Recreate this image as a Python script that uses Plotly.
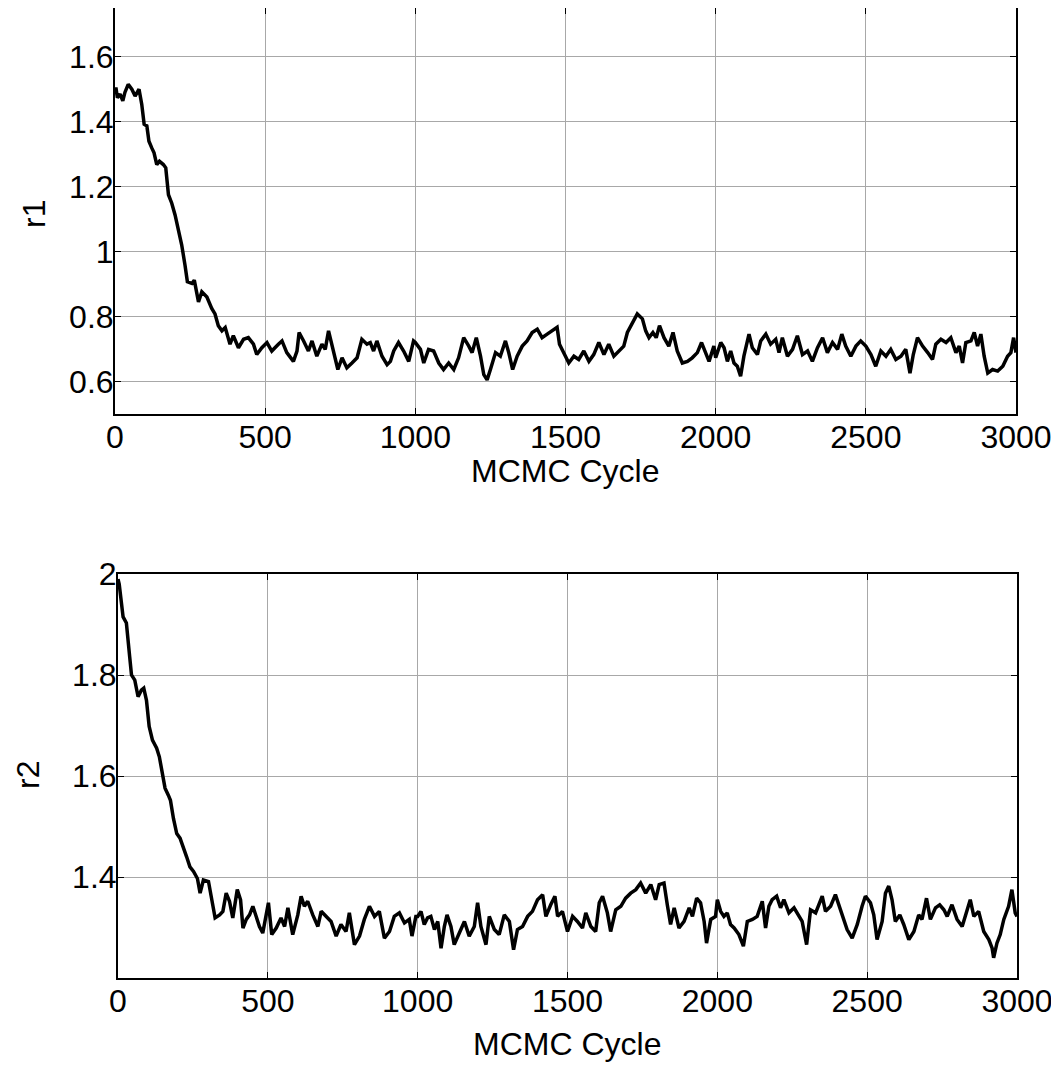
import plotly.graph_objects as go

# ---- data: r1 trace (MCMC cycle, value) ----
r1_cycle = [0, 3, 8, 17, 26, 33, 44, 56, 67, 80, 89, 97, 106, 113, 122, 130, 139, 148, 161, 169,
            178, 189, 200, 211, 222, 233, 241, 256, 264, 278, 289, 306, 322, 333, 344, 356, 367,
            383, 394, 411, 428, 444, 461, 472, 489, 506, 522, 544, 556, 572, 594, 606, 613, 628,
            644, 656, 672, 689, 700, 711, 728, 742, 756, 772, 789, 806, 822, 839, 850, 861, 872,
            889, 906, 917, 928, 944, 961, 978, 994,
            1000, 1017, 1028, 1044, 1061, 1078, 1094, 1111, 1128, 1144, 1161, 1178, 1189, 1203,
            1217, 1228, 1239, 1250, 1267, 1283, 1300, 1311, 1324, 1339, 1356, 1372, 1389, 1406,
            1422, 1439, 1456, 1472, 1480, 1494, 1511, 1528, 1544, 1561, 1578, 1594, 1611, 1628,
            1644, 1661, 1678, 1694, 1706, 1722, 1739, 1756, 1767, 1778, 1791, 1802, 1813, 1828,
            1844, 1858, 1872, 1889, 1906, 1922, 1939, 1953, 1967, 1978, 1994,
            2000, 2017, 2028, 2039, 2050, 2061, 2072, 2083, 2094, 2111, 2122, 2139, 2150, 2167,
            2183, 2200, 2211, 2222, 2239, 2256, 2272, 2289, 2306, 2322, 2339, 2356, 2372, 2389,
            2406, 2420, 2433, 2450, 2467, 2483, 2500, 2517, 2533, 2550, 2567, 2583, 2600, 2617,
            2633, 2647, 2658, 2672, 2689, 2706, 2722, 2733, 2750, 2767, 2783, 2800, 2811, 2822,
            2833, 2850, 2861, 2872, 2883, 2894, 2906, 2922, 2939, 2956, 2972, 2983, 2992, 3000]
r1_value = [1.49, 1.505, 1.474, 1.485, 1.464, 1.49, 1.515, 1.5, 1.479, 1.5, 1.454, 1.392, 1.387,
            1.34, 1.32, 1.304, 1.268, 1.278, 1.268, 1.258, 1.175, 1.149, 1.113, 1.072, 1.021,
            0.959, 0.907, 0.902, 0.912, 0.845, 0.876, 0.86, 0.825, 0.808, 0.772, 0.756, 0.766,
            0.715, 0.741, 0.704, 0.73, 0.735, 0.715, 0.683, 0.704, 0.72, 0.694, 0.715, 0.725,
            0.689, 0.662, 0.694, 0.751, 0.725, 0.694, 0.725, 0.678, 0.715, 0.699, 0.756, 0.689,
            0.637, 0.673, 0.642, 0.657, 0.673, 0.730, 0.715, 0.72, 0.694, 0.725, 0.678, 0.652,
            0.662, 0.694, 0.72, 0.694, 0.662, 0.725,
            0.72, 0.699, 0.657, 0.699, 0.694, 0.657, 0.637, 0.657, 0.637, 0.673, 0.735, 0.709,
            0.689, 0.735, 0.678, 0.621, 0.605, 0.637, 0.689, 0.678, 0.725, 0.689, 0.637, 0.678,
            0.709, 0.725, 0.751, 0.761, 0.735, 0.746, 0.756, 0.767, 0.715, 0.689, 0.657, 0.678,
            0.668, 0.694, 0.662, 0.683, 0.72, 0.683, 0.715, 0.678, 0.694, 0.709, 0.751, 0.777,
            0.808, 0.793, 0.756, 0.735, 0.751, 0.735, 0.772, 0.735, 0.709, 0.751, 0.694, 0.657,
            0.662, 0.673, 0.689, 0.72, 0.689, 0.662, 0.709,
            0.673, 0.72, 0.704, 0.662, 0.694, 0.657, 0.647, 0.616, 0.678, 0.746, 0.704, 0.683,
            0.725, 0.746, 0.715, 0.730, 0.689, 0.735, 0.678, 0.699, 0.741, 0.683, 0.694, 0.662,
            0.704, 0.735, 0.689, 0.72, 0.699, 0.746, 0.709, 0.678, 0.709, 0.725, 0.709, 0.683,
            0.647, 0.694, 0.678, 0.699, 0.668, 0.678, 0.699, 0.626, 0.683, 0.735, 0.709, 0.689,
            0.668, 0.715, 0.730, 0.72, 0.735, 0.689, 0.709, 0.657, 0.72, 0.725, 0.751, 0.709,
            0.746, 0.678, 0.626, 0.637, 0.632, 0.647, 0.678, 0.689, 0.735, 0.689]

# ---- data: r2 trace ----
r2_cycle = [0, 4, 17, 28, 39, 45, 56, 67, 78, 86, 95, 104, 115, 129, 138, 149, 157, 168, 175, 185,
            196, 207, 216, 229, 240, 252, 265, 274, 285, 302, 317, 324, 339, 350, 361, 372, 383,
            398, 409, 417, 428, 439, 450, 461, 472, 483, 494, 502, 513, 528, 544, 556, 567, 583,
            600, 611, 622, 633, 650, 667, 678, 694, 711, 728, 744, 761, 772, 789, 806, 822, 839,
            856, 872, 889, 906, 922, 939, 956, 972, 981, 994,
            1000, 1011, 1022, 1033, 1044, 1056, 1067, 1078, 1089, 1098, 1111, 1122, 1139, 1156,
            1172, 1189, 1200, 1211, 1228, 1239, 1256, 1272, 1289, 1306, 1320, 1333, 1350, 1367,
            1383, 1400, 1417, 1428, 1444, 1458, 1467, 1483, 1500, 1517, 1533, 1550, 1561, 1578,
            1594, 1606, 1617, 1633, 1644, 1661, 1678, 1694, 1711, 1728, 1744, 1761, 1778, 1794,
            1806, 1822, 1833, 1844, 1856, 1872, 1889, 1906, 1917, 1931, 1944, 1956, 1964, 1978,
            1994,
            2000, 2011, 2022, 2033, 2044, 2056, 2072, 2087, 2100, 2117, 2133, 2150, 2161, 2172,
            2183, 2198, 2211, 2222, 2239, 2256, 2272, 2283, 2298, 2311, 2328, 2339, 2350, 2361,
            2378, 2394, 2406, 2417, 2433, 2450, 2467, 2483, 2494, 2511, 2522, 2533, 2550, 2561,
            2572, 2583, 2594, 2609, 2622, 2639, 2656, 2672, 2683, 2698, 2711, 2728, 2742, 2756,
            2767, 2783, 2800, 2817, 2828, 2844, 2856, 2872, 2889, 2906, 2917, 2922, 2933, 2944,
            2956, 2972, 2983, 2994, 3000]
r2_value = [1.99, 1.98, 1.915, 1.903, 1.836, 1.8, 1.79, 1.757, 1.77, 1.774, 1.75, 1.698, 1.671,
            1.655, 1.638, 1.605, 1.576, 1.562, 1.552, 1.516, 1.486, 1.477, 1.463, 1.44, 1.42,
            1.411, 1.397, 1.368, 1.394, 1.391, 1.342, 1.319, 1.325, 1.332, 1.368, 1.352, 1.319,
            1.375, 1.355, 1.299, 1.316, 1.325, 1.342, 1.319, 1.302, 1.289, 1.322, 1.349, 1.286,
            1.299, 1.319, 1.302, 1.339, 1.286, 1.325, 1.362, 1.342, 1.352, 1.325, 1.302, 1.332,
            1.322, 1.312, 1.283, 1.306, 1.292, 1.329, 1.266, 1.283, 1.316, 1.342, 1.322, 1.332,
            1.279, 1.292, 1.322, 1.329, 1.309, 1.316, 1.283, 1.322,
            1.322, 1.332, 1.306, 1.319, 1.322, 1.296, 1.312, 1.259, 1.302, 1.325, 1.302, 1.266,
            1.289, 1.312, 1.283, 1.302, 1.349, 1.302, 1.266, 1.322, 1.296, 1.286, 1.325, 1.312,
            1.256, 1.296, 1.302, 1.322, 1.332, 1.355, 1.365, 1.322, 1.345, 1.362, 1.322, 1.332,
            1.292, 1.322, 1.312, 1.299, 1.329, 1.302, 1.292, 1.349, 1.362, 1.329, 1.292, 1.335,
            1.342, 1.358, 1.368, 1.375, 1.388, 1.368, 1.385, 1.355, 1.385, 1.388, 1.345, 1.306,
            1.339, 1.299, 1.312, 1.339, 1.322, 1.358, 1.349, 1.312, 1.269, 1.316, 1.322,
            1.355, 1.332, 1.322, 1.329, 1.306, 1.299, 1.286, 1.263, 1.312, 1.316, 1.322, 1.352,
            1.299, 1.342, 1.355, 1.362, 1.339, 1.355, 1.329, 1.339, 1.322, 1.312, 1.266, 1.335,
            1.329, 1.345, 1.362, 1.332, 1.342, 1.365, 1.342, 1.325, 1.296, 1.279, 1.306, 1.342,
            1.362, 1.349, 1.325, 1.276, 1.312, 1.368, 1.382, 1.355, 1.312, 1.325, 1.306, 1.276,
            1.292, 1.325, 1.316, 1.358, 1.316, 1.339, 1.345, 1.335, 1.322, 1.345, 1.316, 1.302,
            1.325, 1.355, 1.322, 1.332, 1.292, 1.276, 1.259, 1.240, 1.269, 1.286, 1.316, 1.342,
            1.375, 1.329, 1.322]

x_ticks = [0, 500, 1000, 1500, 2000, 2500, 3000]
r1_ticks = [0.6, 0.8, 1.0, 1.2, 1.4, 1.6]
r1_ticklabels = ["0.6", "0.8", "1", "1.2", "1.4", "1.6"]
r2_ticks = [1.4, 1.6, 1.8, 2.0]
r2_ticklabels = ["1.4", "1.6", "1.8", "2"]

W, H = 1059, 1069
OFF = 8  # page body margin offset (px)
FONT = "Liberation Sans, Arial, sans-serif"
FS = 32


def px_x(x):
    return (x - OFF) / W


def px_y(y):
    return 1 - (y - OFF) / H


fig = go.Figure()
fig.add_trace(go.Scatter(x=r1_cycle, y=r1_value, mode="lines",
                         line=dict(color="black", width=3.5), xaxis="x", yaxis="y",
                         showlegend=False))
fig.add_trace(go.Scatter(x=r2_cycle, y=r2_value, mode="lines",
                         line=dict(color="black", width=3.5), xaxis="x2", yaxis="y2",
                         showlegend=False))

common_axis = dict(showline=True, linecolor="black", linewidth=2, mirror="ticks",
                   ticks="inside", ticklen=6, tickwidth=1, tickcolor="black",
                   showgrid=True, gridcolor="#a8a8a8", gridwidth=1, zeroline=False,
                   automargin=False,
                   tickfont=dict(family=FONT, size=FS, color="black"))

fig.update_layout(
    width=W, height=H,
    margin=dict(l=0, r=0, t=0, b=0, pad=0),
    paper_bgcolor="white", plot_bgcolor="white",
    xaxis=dict(domain=[px_x(115), px_x(1016)], range=[0, 3000], tickvals=x_ticks,
               anchor="y", ticklabelstandoff=-6, **common_axis),
    yaxis=dict(domain=[px_y(414), px_y(8)], range=[0.5, 1.75], tickvals=r1_ticks,
               ticktext=r1_ticklabels, anchor="x", ticklabelstandoff=-7, **common_axis),
    xaxis2=dict(domain=[px_x(118), px_x(1017)], range=[0, 3000], tickvals=x_ticks,
                anchor="y2", ticklabelstandoff=-6, **common_axis),
    yaxis2=dict(domain=[px_y(978), px_y(574)], range=[1.2, 2.0], tickvals=r2_ticks,
                ticktext=r2_ticklabels, anchor="x2", ticklabelstandoff=-7, **common_axis),
    annotations=[
        dict(text="MCMC Cycle", x=px_x(565), y=px_y(471), xref="paper", yref="paper",
             showarrow=False, xanchor="center", yanchor="middle",
             font=dict(family=FONT, size=FS, color="black")),
        dict(text="MCMC Cycle", x=px_x(567), y=px_y(1044), xref="paper", yref="paper",
             showarrow=False, xanchor="center", yanchor="middle",
             font=dict(family=FONT, size=FS, color="black")),
        dict(text="r1", x=px_x(34), y=px_y(214), xref="paper", yref="paper",
             showarrow=False, xanchor="center", yanchor="middle", textangle=-90,
             font=dict(family=FONT, size=FS, color="black")),
        dict(text="r2", x=px_x(28), y=px_y(775), xref="paper", yref="paper",
             showarrow=False, xanchor="center", yanchor="middle", textangle=-90,
             font=dict(family=FONT, size=FS, color="black")),
    ],
)

fig.write_html("out.html")
